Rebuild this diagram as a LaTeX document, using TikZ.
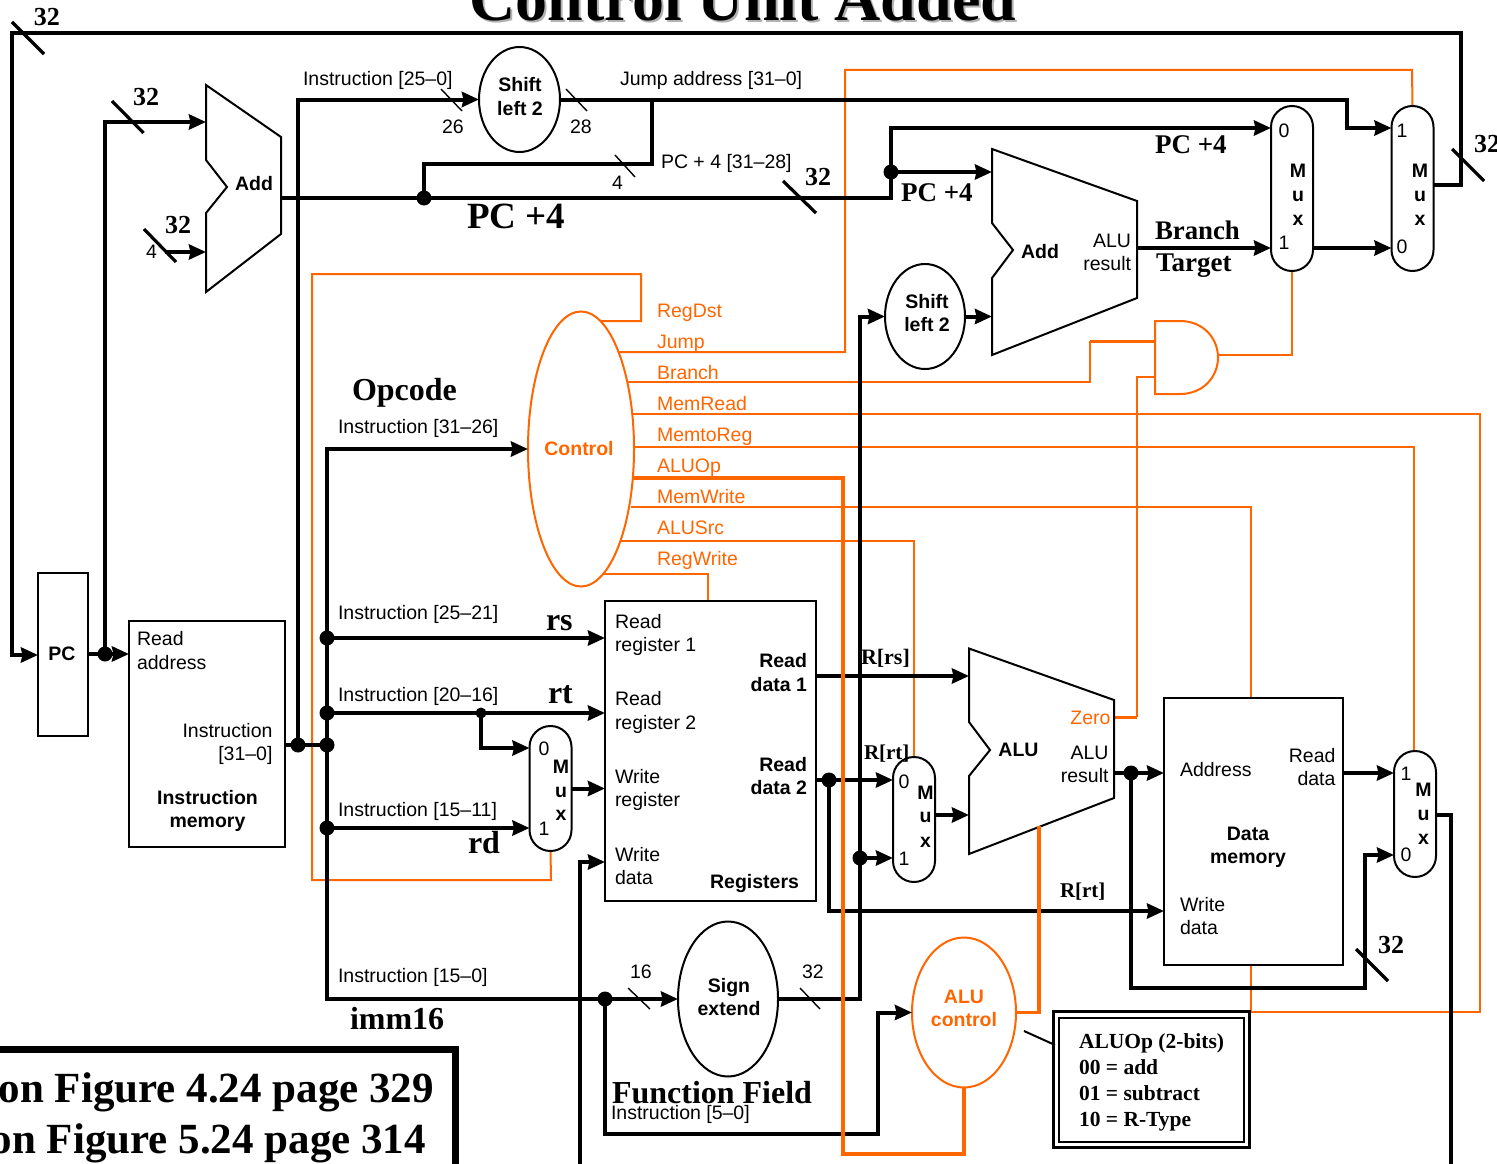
\documentclass[tikz,border=0pt]{standalone}
\usepackage{fontspec}
\setmainfont{Liberation Sans}
\newfontfamily\tms{Liberation Serif}
\usetikzlibrary{arrows.meta,shapes.geometric}
\pgfdeclarelayer{bg}
\pgfdeclarelayer{fg}
\pgfsetlayers{bg,main,fg}
\definecolor{ctl}{HTML}{FF6600}
\newcount\lblno
\newcount\slno
\newcommand\sz[1]{\fontsize{#1}{#1}\selectfont}
% baseline-anchored text: \TL left, \TR right, \TC centred
\newcommand\TL[3][]{\global\advance\lblno by 1 \node[txt,anchor=base west,#1] (lbl\the\lblno) at (#2) {#3};}
\newcommand\TR[3][]{\global\advance\lblno by 1 \node[txt,anchor=base east,#1] (lbl\the\lblno) at (#2) {#3};}
\newcommand\TC[3][]{\global\advance\lblno by 1 \node[txt,anchor=base,#1] (lbl\the\lblno) at (#2) {#3};}
\newcommand\SL[3][slashthin]{\global\advance\slno by 1
  \coordinate (sa\the\slno) at (#2); \coordinate (sb\the\slno) at (#3);
  \draw[#1] (sa\the\slno) -- (sb\the\slno);}
\tikzset{
  txt/.style={inner sep=0pt,outer sep=0pt,font=\sz{19.5}},
  bsans/.style={font=\sz{19.5}\bfseries},
  oran/.style={text=ctl},
  big/.style={font=\tms\bfseries\sz{#1}},
  shapeline/.style={draw=black,line width=2pt,line join=miter},
  boxn/.style={draw=black,line width=2pt,inner sep=0pt,outer sep=0pt},
  ell/.style={ellipse,draw=black,line width=2pt,inner sep=0pt,outer sep=0pt},
  muxn/.style={draw=black,line width=2pt,inner sep=0pt,outer sep=0pt,rounded corners=21pt,minimum width=42pt},
  dot/.style={circle,fill=black,inner sep=0pt,minimum size=#1},
  dot/.default=15pt,
  wire/.style={line width=4pt,black},
  awire/.style={wire,-{Stealth[length=17pt,width=15pt,inset=1.5pt]}},
  cw/.style={line width=2pt,ctl},
  cwm/.style={line width=3pt,ctl},
  cwt/.style={line width=3.8pt,ctl},
  slashthin/.style={line width=1.4pt,black},
  slashthick/.style={line width=3.2pt,black},
}
\begin{document}
\begin{tikzpicture}[x=1pt,y=-1pt]
\useasboundingbox (0,0) rectangle (1497,1164);
\begin{pgfonlayer}{bg}
\fill[white] (0,0) rectangle (1497,1164);
\end{pgfonlayer}
% ---- title
\TC[big=64,text=black!30]{745,23}{Control Unit Added}
\TC[big=64]{743,21}{Control Unit Added}

% ---- shapes
\node[boxn,minimum width=50pt,minimum height=163pt] (pc) at (63,654.5) {};
\node[boxn,minimum width=156pt,minimum height=226pt] (imem) at (207,734) {};
\node[boxn,minimum width=211pt,minimum height=300pt] (regs) at (710.5,751) {};
\node[boxn,minimum width=179pt,minimum height=267pt] (dmem) at (1253.5,831.5) {};
\node[ell,minimum width=81pt,minimum height=105pt] (shiftA) at (519.5,99.5) {};
\node[ell,minimum width=80pt,minimum height=105pt] (shiftB) at (925,316.5) {};
\node[ell,minimum width=100pt,minimum height=155pt] (signx) at (728,999) {};
\node[ell,draw=ctl,minimum width=106pt,minimum height=275pt] (control) at (581,449) {};
\node[ell,draw=ctl,minimum width=104pt,minimum height=150pt] (aluctl) at (964,1012.5) {};
\node[muxn,minimum height=165pt] (muxA) at (1292,188.5) {};
\node[muxn,minimum height=165pt] (muxB) at (1412.5,188.5) {};
\node[muxn,minimum height=125pt] (muxC) at (550.5,788.5) {};
\node[muxn,minimum height=125pt] (muxD) at (914,819.5) {};
\node[muxn,minimum height=126pt] (muxE) at (1415,814) {};

% adders and ALU
\draw[shapeline] (206,85) -- (281,137) -- (281,234) -- (206,292) -- (206,213) -- (227,187) -- (206,160) -- cycle;
\draw[shapeline] (992,149) -- (1137,201) -- (1137,298) -- (992,355) -- (992,278) -- (1013,250) -- (992,223) -- cycle;
\draw[shapeline] (969,648.5) -- (1114,700) -- (1114,798) -- (969,854) -- (969,776) -- (990,750) -- (969,722) -- cycle;
% AND gate
\draw[line width=2pt,ctl] (1155,321) -- (1180,321) .. controls (1204,321) and (1218,339) .. (1218,357.5) .. controls (1218,376) and (1204,394) .. (1180,394) -- (1155,394) -- cycle;

% ---- ports
\coordinate (addAin1) at (206,122);
\coordinate (addAin2) at (206,252);
\coordinate (addAout) at (281,198);
\coordinate (addBin1) at (992,172);
\coordinate (addBin2) at (992,316.5);
\coordinate (addBout) at (1137,248);
\coordinate (aluIn1) at (969,676);
\coordinate (aluIn2) at (969,815);
\coordinate (aluOut) at (1114,773);
\coordinate (aluZero) at (1115,717);
\coordinate (aluBot) at (1039,826);
\coordinate (four) at (165,252);
\coordinate (andOut) at (1218,355);
\coordinate (andIn1) at (1155,341);
\coordinate (andIn2) at (1155,377);
\coordinate (wdataEnd) at (580,1164);
\coordinate (muxEnd) at (1451,1164);
\coordinate (regsTop) at (708,601);
\coordinate (ctlRegDst) at (601,321);
\coordinate (ctlJump) at (619,352);
\coordinate (ctlBranch) at (628,382);
\coordinate (ctlMemRead) at (633,414);
\coordinate (ctlMemtoReg) at (634,447);
\coordinate (ctlALUOp) at (633,478);
\coordinate (ctlMemWrite) at (631,507);
\coordinate (ctlALUSrc) at (621,541);
\coordinate (ctlRegWrite) at (604,574);
\coordinate (dmemTop) at (1251,698);
\coordinate (dmemBot) at (1251,965);

% ---- junctions
\node[dot] (jPC) at (105,654) {};
\node[dot] (jTop) at (424,198) {};
\node[dot] (jAdd) at (891,172) {};
\node[dot] (jI) at (298,745) {};
\node[dot] (jII) at (327,745) {};
\node[dot] (jRs) at (327,638) {};
\node[dot] (jRt) at (327,713) {};
\node[dot] (jRd) at (327,828) {};
\node[dot=11pt] (jMx) at (481,713) {};
\node[dot] (jFn) at (605,999) {};
\node[dot] (jImm) at (860,858) {};
\node[dot] (jRd2) at (829,780) {};
\node[dot] (jAlu) at (1131,773) {};

% ---- control lines, under the data path
\begin{pgfonlayer}{bg}
\draw[cw] (ctlRegDst) -- (641,321) -- (641,274) -- (312,274) -- (312,880) -- (551,880) -- (muxC.south);
\draw[cw] (ctlJump) -- (845,352) -- (845,70) -- (1412,70) -- (muxB.north);
\draw[cw] (ctlBranch) -- (1090,382) -- (1090,341);
\draw[cwm] (1090,341) -- (andIn1);
\draw[cw] (ctlMemRead) -- (1480,414) -- (1480,1012) -- (1251,1012) -- (dmemBot);
\draw[cw] (ctlMemtoReg) -- (1414,447) -- (muxE.north -| 1414,751);
\draw[cw] (ctlMemWrite) -- (1251,507) -- (dmemTop);
\draw[line width=2.4pt,ctl] (ctlALUSrc) -- (914,541) -- (muxD.north);
\draw[cw] (ctlRegWrite) -- (708,574) -- (regsTop);
\draw[cw] (1137,717) -- (1137,377) -- (andIn2);
\draw[cwm] (aluZero) -- (1137,717);
\draw[cw] (andOut) -- (1292,355) -- (muxA.south);
\end{pgfonlayer}

% ---- data path
\draw[awire] (muxB.east |- 0,185) -- (1461,185) -- (1461,33) -- (12,33) -- (12,655) -- (pc.west |- 0,655);
\draw[wire] (pc.east |- jPC) -- (jPC.center);
\draw[awire] (jPC.center) -- (imem.west |- jPC);
\draw[awire] (jPC.center) -- (105,122) -- (addAin1);
\draw[awire] (four) -- (addAin2);
\draw[wire] (addAout) -- (891,198) -- (jAdd.center);
\draw[awire] (jAdd.center) -- (891,128) -- (muxA.west |- 0,128);
\draw[awire] (jAdd.center) -- (addBin1);
\draw[wire] (jTop.center) -- (424,164) -- (652,164) -- (652,99.5);
\draw[wire] (imem.east |- jI) -- (jII.center);
\draw[awire] (jI.center) -- (298,99.5) -- (shiftA.west);
\draw[awire] (shiftA.east) -- (1347,99.5) -- (1347,128) -- (muxB.west |- 0,128);
\draw[awire] (addBout) -- (muxA.west |- addBout);
\draw[awire] (muxA.east |- addBout) -- (muxB.west |- addBout);
\draw[awire] (jRd.center) -- (327,449) -- (control.west);
\draw[wire] (jRd.center) -- (327,999) -- (jFn.center);
\draw[awire] (jFn.center) -- (signx.west);
\draw[awire] (jRs.center) -- (regs.west |- jRs);
\draw[awire] (jRt.center) -- (regs.west |- jRt);
\draw[awire] (jMx.center) -- (481,748) -- (muxC.west |- 0,748);
\draw[awire] (jRd.center) -- (muxC.west |- jRd);
\draw[awire] (muxC.east) -- (regs.west |- muxC);
\draw[awire] (wdataEnd) -- (580,862) -- (regs.west |- 0,862);
\draw[wire] (signx.east) -- (860,999) -- (jImm.center);
\draw[awire] (jImm.center) -- (860,316.5) -- (shiftB.west);
\draw[awire] (jImm.center) -- (muxD.west |- jImm);
\draw[awire] (shiftB.east) -- (addBin2);
\draw[awire] (regs.east |- aluIn1) -- (aluIn1);
\draw[awire] (regs.east |- jRd2) -- (muxD.west |- jRd2);
\draw[awire] (jRd2.center) -- (829,911) -- (dmem.west |- 0,911);
\draw[awire] (muxD.east |- aluIn2) -- (aluIn2);
\draw[wire] (aluOut) -- (jAlu.center);
\draw[awire] (jAlu.center) -- (dmem.west |- jAlu);
\draw[awire] (jAlu.center) -- (1131,988) -- (1365,988) -- (1365,855) -- (muxE.west |- 0,855);
\draw[awire] (dmem.east |- jAlu) -- (muxE.west |- jAlu);
\draw[wire] (muxE.east |- 0,815) -- (1451,815) -- (muxEnd);
\draw[awire] (jFn.center) -- (605,1134) -- (878,1134) -- (878,1012.5) -- (aluctl.west);

% ---- ALU control lines, over the data path
\begin{pgfonlayer}{fg}
\draw[cwt] (ctlALUOp) -- (843,478) -- (843,1154) -- (964,1154) -- (aluctl.south);
\draw[cwt] (aluBot) -- (1039,1012.5) -- (aluctl.east);
\end{pgfonlayer}

% ---- slashes
\SL[slashthick]{12,22}{44,54}
\SL[slashthick]{1452,149}{1484,181}
\SL[slashthick]{112,101}{143.5,133}
\SL[slashthick]{144,229}{176,262}
\SL[slashthick]{783,181}{816,213}
\SL[slashthick]{1356,949}{1388,981}
\SL{441,89}{462,111}
\SL{566,89}{587,111}
\SL{615,155}{635,177}
\SL{628,988}{650,1009}
\SL{800,988}{820,1009}
\SL[line width=2pt]{1024,1031}{1055,1045}

% ---- note boxes
\node[draw=black,line width=3pt,minimum width=196pt,minimum height=136pt,inner sep=0pt] (noteO) at (1151.5,1079.5) {};
\node[draw=black,line width=2pt,minimum width=185pt,minimum height=124pt,inner sep=0pt] (noteI) at (1151.5,1079.5) {};
\coordinate (bigA) at (0,1049);
\coordinate (bigB) at (455.5,1164);
\draw[line width=7pt] (bigA) -- (bigB |- bigA) -- (bigB);

% ---- plain labels
\TL{303,85}{Instruction [25–0]}
\TL{620,85}{Jump address [31–0]}
\TL{661,168}{PC + 4 [31–28]}
\TL{442,133}{26}
\TL{570,133}{28}
\TL{612,189}{4}
\TL{146,258}{4}
\TL{338,433}{Instruction [31–26]}
\TL{338,619}{Instruction [25–21]}
\TL{338,701}{Instruction [20–16]}
\TL{338,816}{Instruction [15–11]}
\TL{338,982}{Instruction [15–0]}
\TL{611,1119}{Instruction [5–0]}
\TL{630,978}{16}
\TL{802,978}{32}
\TL{137,645}{Read}
\TL{137,669}{address}
\TR{272.5,737}{Instruction}
\TR{272.5,760}{[31–0]}
\TL{615,628}{Read}
\TL{615,651}{register 1}
\TL{615,705}{Read}
\TL{615,729}{register 2}
\TL{615,783}{Write}
\TL{615,806}{register}
\TL{615,861}{Write}
\TL{615,884}{data}
\TR{1131,247}{ALU}
\TR{1131,270}{result}
\TR{1108.5,759}{ALU}
\TR{1108.5,782}{result}
\TL{1180,776}{Address}
\TR{1335.5,762}{Read}
\TR{1335.5,785}{data}
\TL{1180,911}{Write}
\TL{1180,934}{data}

% ---- bold sans labels
\TC[bsans]{520,92}{Shift}
\TC[bsans]{520,115}{left 2}
\TC[bsans]{927,308}{Shift}
\TC[bsans]{927,331}{left 2}
\TC[bsans]{254,190}{Add}
\TC[bsans]{1040,258}{Add}
\TC[bsans]{1018.5,756}{ALU}
\TC[bsans]{62,660}{PC}
\TC[bsans]{207.5,804}{Instruction}
\TC[bsans]{207.5,827}{memory}
\TR[bsans]{807,667}{Read}
\TR[bsans]{807,691}{data 1}
\TR[bsans]{807,771}{Read}
\TR[bsans]{807,794}{data 2}
\TR[bsans]{799,888}{Registers}
\TC[bsans]{729,992}{Sign}
\TC[bsans]{729,1015}{extend}
\TC[bsans]{1248,840}{Data}
\TC[bsans]{1248,863}{memory}

% ---- mux labels
\TC{1284,137}{0}\TC{1284,249}{1}
\TC[bsans]{1298,177}{M}\TC[bsans]{1298,201}{u}\TC[bsans]{1298,225}{x}
\TC{1402,137}{1}\TC{1402,253}{0}
\TC[bsans]{1420,177}{M}\TC[bsans]{1420,201}{u}\TC[bsans]{1420,225}{x}
\TC{544,755}{0}\TC{544,835}{1}
\TC[bsans]{561,773}{M}\TC[bsans]{561,797}{u}\TC[bsans]{561,820}{x}
\TC{904,788}{0}\TC{904,865}{1}
\TC[bsans]{925.5,799}{M}\TC[bsans]{925.5,822}{u}\TC[bsans]{925.5,847}{x}
\TC{1406,780}{1}\TC{1406,861}{0}
\TC[bsans]{1423.5,796}{M}\TC[bsans]{1423.5,820}{u}\TC[bsans]{1423.5,844}{x}

% ---- orange labels
\TC[bsans,oran]{579,455}{Control}
\TC[bsans,oran]{964,1003}{ALU}
\TC[bsans,oran]{964,1026}{control}
\TR[oran]{1110.5,724}{Zero}
\TL[oran]{657,317}{RegDst}
\TL[oran]{657,348}{Jump}
\TL[oran]{657,379}{Branch}
\TL[oran]{657,410}{MemRead}
\TL[oran]{657,441}{MemtoReg}
\TL[oran]{657,472}{ALUOp}
\TL[oran]{657,503}{MemWrite}
\TL[oran]{657,534}{ALUSrc}
\TL[oran]{657,565}{RegWrite}

% ---- serif labels
\TL[big=26]{34,26}{32}
\TL[big=26]{133,105}{32}
\TL[big=26]{165,233}{32}
\TL[big=26]{805,185}{32}
\TL[big=26]{1474,152}{32}
\TL[big=26]{1378,953}{32}
\TL[big=37]{467,228}{PC +4}
\TL[big=27]{1155,153}{PC +4}
\TL[big=27]{901,201}{PC +4}
\TL[big=26.8]{1155,239}{Branch}
\TL[big=27]{1156,271}{Target}
\TL[big=32]{352,400}{Opcode}
\TL[big=32]{546,630}{rs}
\TL[big=32]{548,703}{rt}
\TL[big=32]{468,853}{rd}
\TL[big=32]{350,1029}{imm16}
\TL[big=32]{612,1103}{Function Field}
\TL[big=22]{861,664}{R[rs]}
\TL[big=21]{864,759}{R[rt]}
\TL[big=21]{1060,897}{R[rt]}
\TL[big=21.5]{1079,1048}{ALUOp (2-bits)}
\TL[big=21.5]{1079,1074}{00 = add}
\TL[big=21.5]{1079,1100}{01 = subtract}
\TL[big=21.5]{1079,1126}{10 = R-Type}
\TR[big=43]{434,1102}{on Figure 4.24 page 329}
\TR[big=43]{426,1153}{on Figure 5.24 page 314}
\end{tikzpicture}
\end{document}
